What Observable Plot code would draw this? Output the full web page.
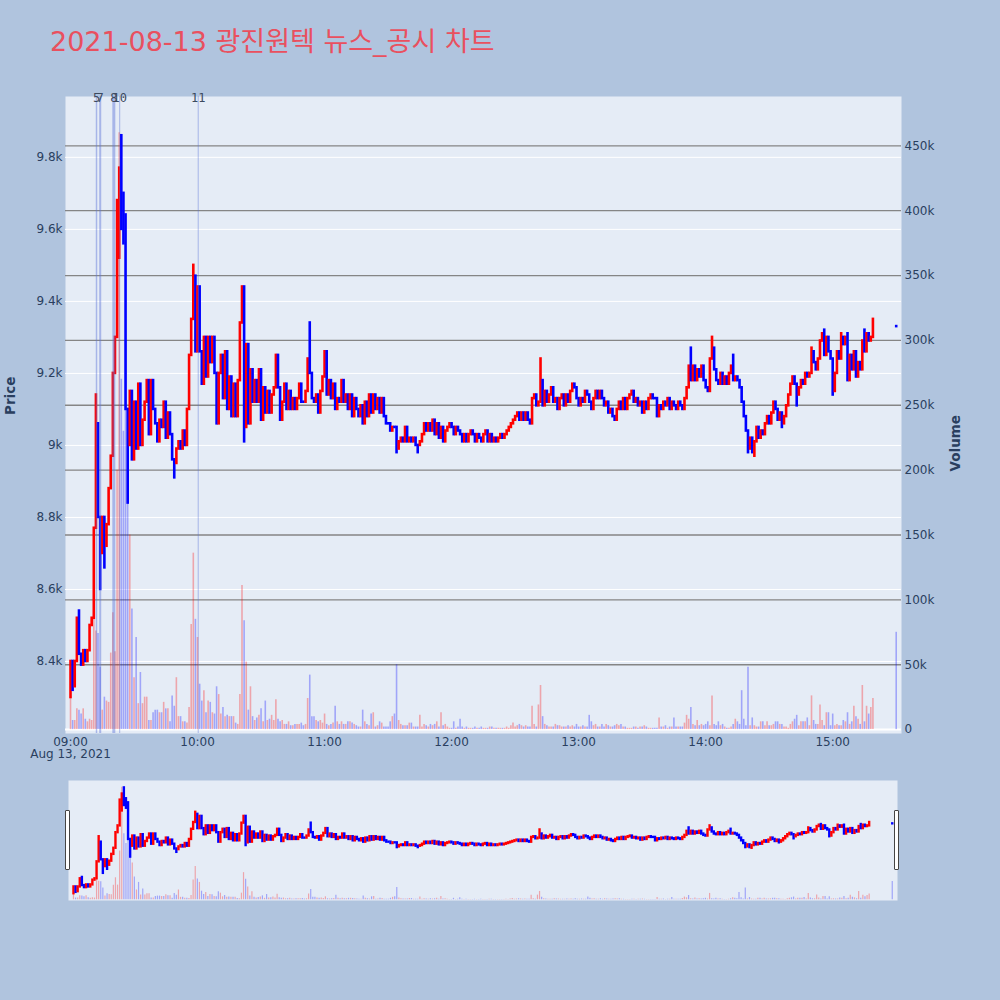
<!DOCTYPE html>
<html>
<head>
<meta charset="utf-8">
<script src="https://cdn.jsdelivr.net/npm/d3@7"></script>
<script src="https://cdn.jsdelivr.net/npm/@observablehq/plot@0.6"></script>
<style>
html, body { margin: 0; padding: 0; background: #b0c4de; }
#wrap { position: relative; width: 1000px; height: 1000px; background: #b0c4de; overflow: hidden;
  font-family: "DejaVu Sans", "Noto Sans CJK KR", sans-serif; }
#title { position: absolute; left: 50px; top: 28px; font-size: 27px; line-height: 1; color: #e9505f; white-space: nowrap; }
.handle { position: absolute; top: 810px; width: 3px; height: 58px; background: #fff; border: 1px solid #444; border-radius: 1px; }
</style>
</head>
<body>
<div id="wrap">
  <div id="title">2021-08-13 광진원텍 뉴스_공시 차트</div>
</div>
<script>
// ---------- data ----------
const firstOpen = 8300;          // 09:00 open
// closing price of each 1-minute candle, 09:00 .. 15:19 (open of a candle = close of the previous one)
const closes = [
  8400, 8330, 8400, 8520, 8420, 8390, 8430, 8400, 8430, 8500,
  8520, 8770, 9060, 8800, 8700, 8800, 8720, 8780, 8880, 8970,
  9200, 9300, 9520, 9770, 9600, 9560, 9100, 9000, 9150, 8960,
  9120, 8990, 9170, 9000, 9070, 9120, 9180, 9030, 9180, 9100,
  9060, 9010, 9070, 9050, 9120, 9020, 9090, 9030, 8960, 8950,
  8990, 9010, 8990, 9040, 9000, 9100, 9250, 9350, 9450, 9260,
  9440, 9260, 9170, 9300, 9190, 9300, 9230, 9300, 9200, 9060,
  9200, 9250, 9130, 9260, 9100, 9190, 9080, 9170, 9080, 9180,
  9340, 9440, 9050, 9280, 9060, 9210, 9120, 9180, 9120, 9210,
  9070, 9160, 9090, 9150, 9090, 9140, 9160, 9250, 9160, 9070,
  9120, 9170, 9100, 9150, 9100, 9130, 9100, 9130, 9170, 9120,
  9120, 9150, 9240, 9200, 9130, 9120, 9140, 9090, 9150, 9190,
  9260, 9140, 9180, 9130, 9170, 9100, 9130, 9120, 9180, 9120,
  9140, 9100, 9140, 9080, 9130, 9100, 9080, 9110, 9060, 9120,
  9080, 9140, 9090, 9140, 9100, 9130, 9090, 9130, 9080, 9060,
  9060, 9040, 9050, 9050, 8990, 9010, 9020, 9010, 9050, 9010,
  9020, 9010, 9020, 9000, 9000, 9010, 9030, 9060, 9040, 9060,
  9040, 9070, 9030, 9060, 9020, 9050, 9010, 9040, 9050, 9060,
  9050, 9030, 9050, 9040, 9030, 9010, 9030, 9010, 9030, 9040,
  9030, 9010, 9030, 9020, 9010, 9030, 9040, 9010, 9030, 9010,
  9020, 9010, 9020, 9030, 9020, 9030, 9040, 9050, 9060, 9070,
  9080, 9090, 9070, 9090, 9070, 9090, 9070, 9060, 9130, 9140,
  9110, 9120, 9180, 9110, 9150, 9120, 9140, 9160, 9120, 9130,
  9100, 9130, 9140, 9110, 9140, 9120, 9150, 9170, 9160, 9130,
  9110, 9130, 9120, 9150, 9140, 9120, 9100, 9130, 9150, 9130,
  9150, 9130, 9110, 9120, 9090, 9100, 9080, 9070, 9100, 9120,
  9100, 9130, 9100, 9130, 9140, 9150, 9120, 9130, 9110, 9120,
  9090, 9120, 9100, 9130, 9140, 9130, 9130, 9080, 9110, 9100,
  9120, 9110, 9130, 9100, 9120, 9110, 9100, 9120, 9110, 9100,
  9130, 9160, 9220, 9180, 9220, 9180, 9210, 9190, 9220, 9180,
  9160, 9150, 9240, 9270, 9210, 9180, 9170, 9200, 9170, 9190,
  9170, 9200, 9220, 9180, 9190, 9180, 9160, 9120, 9080, 9040,
  8990, 9020, 8990, 9010, 9050, 9020, 9040, 9030, 9060, 9080,
  9060, 9090, 9120, 9100, 9070, 9090, 9060, 9080, 9110, 9140,
  9170, 9190, 9170, 9140, 9160, 9180, 9170, 9200, 9190, 9200,
  9260, 9230, 9210, 9240, 9290, 9310, 9250, 9300, 9260, 9240,
  9150, 9200, 9260, 9240, 9300, 9280, 9300, 9180, 9250, 9210,
  9260, 9190, 9230, 9210, 9290, 9260, 9310, 9290, 9300, 9340
];
// traded volume of each minute, in thousands of shares
const volumesK = [
  25, 7, 7, 16, 15, 12, 16, 8, 6, 8,
  7, 150, 76, 74, 48, 15, 25, 22, 21, 59,
  90, 60, 200, 460, 270, 230, 300, 200, 150, 93,
  40, 71, 20, 44, 20, 25, 25, 7, 7, 13,
  15, 15, 13, 13, 21, 16, 16, 6, 26, 18,
  40, 10, 10, 6, 6, 5, 17, 81, 136, 85,
  71, 35, 22, 30, 13, 22, 21, 13, 12, 33,
  27, 12, 17, 10, 11, 10, 10, 10, 5, 4,
  27, 111, 84, 52, 15, 33, 10, 7, 9, 11,
  16, 6, 22, 7, 8, 11, 7, 23, 8, 6,
  7, 4, 4, 6, 3, 3, 4, 4, 4, 5,
  3, 4, 24, 42, 10, 10, 7, 6, 7, 5,
  12, 4, 3, 4, 5, 18, 6, 4, 6, 4,
  4, 6, 6, 5, 4, 3, 2, 2, 15, 6,
  4, 3, 12, 13, 2, 3, 6, 5, 2, 2,
  2, 6, 10, 12, 50, 7, 4, 3, 3, 3,
  5, 5, 2, 2, 2, 11, 2, 4, 3, 2,
  4, 3, 4, 6, 2, 13, 3, 4, 2, 1,
  1, 6, 1, 2, 8, 2, 1, 2, 1, 1,
  1, 2, 1, 1, 2, 1, 1, 1, 2, 2,
  1, 1, 1, 1, 1, 1, 2, 1, 3, 5,
  2, 3, 4, 3, 2, 3, 2, 2, 18, 4,
  2, 19, 34, 10, 4, 3, 2, 2, 2, 4,
  3, 3, 2, 2, 2, 3, 2, 3, 2, 4,
  2, 2, 3, 2, 2, 11, 6, 3, 4, 2,
  2, 4, 2, 4, 3, 2, 2, 3, 4, 3,
  4, 2, 2, 1, 1, 1, 2, 2, 1, 2,
  2, 3, 2, 1, 1, 1, 1, 1, 9, 2,
  2, 3, 1, 2, 2, 9, 2, 2, 2, 2,
  5, 11, 8, 17, 4, 3, 7, 3, 4, 3,
  4, 6, 3, 26, 4, 3, 6, 3, 4, 2,
  1, 1, 2, 4, 8, 6, 4, 30, 8, 3,
  48, 3, 9, 3, 2, 2, 6, 6, 3, 6,
  3, 3, 4, 6, 6, 4, 4, 2, 2, 1,
  4, 6, 8, 11, 3, 6, 6, 6, 9, 3,
  26, 7, 4, 4, 19, 7, 3, 13, 13, 3,
  12, 3, 4, 3, 3, 7, 6, 13, 4, 6,
  18, 10, 8, 4, 34, 6, 18, 12, 17, 24
];
// wicks that reach beyond the candle body: [minute index, price]
const wickHighs = [[4, 8540], [12, 9140], [22, 9680], [24, 9860], [25, 9700], [26, 9640], [58, 9500], [59, 9470],
  [113, 9340], [222, 9240], [293, 9270], [303, 9300], [313, 9250], [350, 9270], [356, 9320], [364, 9310],
  [367, 9310], [375, 9320], [379, 9350]];
const wickLows = [[1, 8320], [14, 8600], [16, 8660], [27, 8840], [49, 8910], [82, 9010], [154, 8980], [164, 8980],
  [320, 8980], [322, 8980], [323, 8970], [336, 9050], [343, 9110], [360, 9140]];
// 15:30 closing auction
const auctionMinute = 390;
const auctionPrice = 9330;
const auctionVolumeK = 75;
// news / disclosure markers
const newsLabels = ["5", "7", "8", "10", "11"];
const newsTimes = ["09:12:17", "09:14:02", "09:20:27", "09:23:14", "10:00:19"];
// axis ticks
const priceTicks = [8400, 8600, 8800, 9000, 9200, 9400, 9600, 9800];
const volumeTicks = [0, 50000, 100000, 150000, 200000, 250000, 300000, 350000, 400000, 450000];
const hourTicks = [9, 10, 11, 12, 13, 14, 15];

// ---------- styles ----------
const UP = "#ff0000", DOWN = "#0000ff";
const newsWidths = [1.5, 2, 3, 1, 1];
const FONT = "DejaVu Sans, Noto Sans CJK KR, sans-serif";

// ---------- build tables ----------
const minuteTime = m => new Date(2021, 7, 13, 9, m);
const hiMap = new Map(wickHighs), loMap = new Map(wickLows);
const candles = closes.map((c, i) => {
  const o = i === 0 ? firstOpen : closes[i - 1];
  return {
    t: minuteTime(i), o, c,
    h: Math.max(o, c, hiMap.has(i) ? hiMap.get(i) : -Infinity),
    l: Math.min(o, c, loMap.has(i) ? loMap.get(i) : Infinity),
    v: volumesK[i] * 1000, up: c > o
  };
});
candles.push({t: minuteTime(auctionMinute), o: auctionPrice, c: auctionPrice, h: auctionPrice, l: auctionPrice,
  v: auctionVolumeK * 1000, up: false});
const parseHMS = s => { const [h, m, sec] = s.split(":").map(Number); return new Date(2021, 7, 13, h, m, sec); };
const news = newsLabels.map((label, i) => ({label, t: parseHMS(newsTimes[i]), w: newsWidths[i]}));
const hourTimes = hourTicks.map(h => new Date(2021, 7, 13, h, 0));

const xDomain = [new Date(2021, 7, 13, 8, 57, 38), new Date(2021, 7, 13, 15, 32, 30)];
const priceDomain = [8200, 9969];
const volDomain = [-3000, 488000];
const color = d => d.up ? UP : DOWN;

const wrap = document.getElementById("wrap");
const style = top => ({background: "transparent", fontFamily: FONT, fontSize: "12px", color: "#2a3f5f",
  position: "absolute", left: "0px", top: top + "px", overflow: "visible"});
const mainDims = {width: 1000, height: 780, marginTop: 96, marginBottom: 47, marginLeft: 65, marginRight: 99};
const sliderDims = {width: 1000, height: 140, marginTop: 10, marginBottom: 10, marginLeft: 68, marginRight: 103};

// layer 1: background, price grid, price axis
wrap.appendChild(Plot.plot({
  ...mainDims, style: style(0),
  x: {type: "time", domain: xDomain, axis: null},
  y: {domain: priceDomain},
  marks: [
    Plot.frame({fill: "#e5ecf6", stroke: "none"}),
    Plot.gridY(priceTicks, {stroke: "#ffffff", strokeOpacity: 1, strokeWidth: 1}),
    Plot.axisY(priceTicks, {tickSize: 0, tickPadding: 3, tickFormat: d3.format("~s"), label: null}),
    Plot.text(["Price"], {text: d => d, frameAnchor: "left", dx: -55, rotate: -90, fontWeight: "bold", fontSize: 13.5, fill: "#2a3f5f"})
  ]
}));

// layer 2: volume grid, volume bars, volume axis, time axis
wrap.appendChild(Plot.plot({
  ...mainDims, style: style(0),
  x: {type: "time", domain: xDomain},
  y: {domain: volDomain},
  marks: [
    Plot.gridY(volumeTicks.filter(v => v > 0), {stroke: "#858585", strokeOpacity: 1, strokeWidth: 1.3}),
    Plot.ruleY([0], {stroke: "#ffffff", strokeWidth: 2}),
    Plot.ruleX(candles, {x: "t", y1: 0, y2: "v", stroke: color, strokeOpacity: 0.3, strokeWidth: 1.6}),
    Plot.axisY(volumeTicks, {anchor: "right", tickSize: 0, tickPadding: 3, tickFormat: d3.format("~s"), label: null}),
    Plot.axisX(hourTimes, {tickSize: 0, tickPadding: 4, label: null,
      tickFormat: d => d.getHours() === 9 ? "09:00\nAug 13, 2021" : d3.timeFormat("%H:%M")(d)}),
    Plot.text(["Volume"], {text: d => d, frameAnchor: "right", dx: 54, rotate: -90, fontWeight: "bold", fontSize: 13.5, fill: "#2a3f5f"})
  ]
}));

// layer 3: candles and news markers
wrap.appendChild(Plot.plot({
  ...mainDims, style: style(0),
  x: {type: "time", domain: xDomain, axis: null},
  y: {domain: priceDomain, axis: null},
  marks: [
    Plot.ruleX(candles, {x: "t", y1: "l", y2: "h", stroke: color, strokeWidth: 2.6, strokeLinecap: "square"}),
    Plot.ruleX(news, {x: "t", stroke: "#5a73d8", strokeOpacity: 0.45, strokeWidth: "w"}),
    Plot.text(news, {x: "t", text: "label", frameAnchor: "top", lineAnchor: "middle", dy: 1.5,
      fontSize: 12, fill: "#3c4a5e", fontFamily: "DejaVu Sans Mono"})
  ]
}));

// range slider: volume underlay + candles
wrap.appendChild(Plot.plot({
  ...sliderDims, style: style(770),
  x: {type: "time", domain: xDomain, axis: null},
  y: {domain: volDomain, axis: null},
  marks: [
    Plot.frame({fill: "#e5ecf6", stroke: "none"}),
    Plot.ruleX(candles, {x: "t", y1: 0, y2: "v", stroke: color, strokeOpacity: 0.3, strokeWidth: 1.2})
  ]
}));
wrap.appendChild(Plot.plot({
  ...sliderDims, style: style(770),
  x: {type: "time", domain: xDomain, axis: null},
  y: {domain: priceDomain, axis: null},
  marks: [
    Plot.ruleX(candles, {x: "t", y1: "l", y2: "h", stroke: color, strokeWidth: 2.4, strokeLinecap: "square"})
  ]
}));
for (const left of [65, 894]) {
  const h = document.createElement("div");
  h.className = "handle";
  h.style.left = left + "px";
  wrap.appendChild(h);
}
</script>
</body>
</html>
